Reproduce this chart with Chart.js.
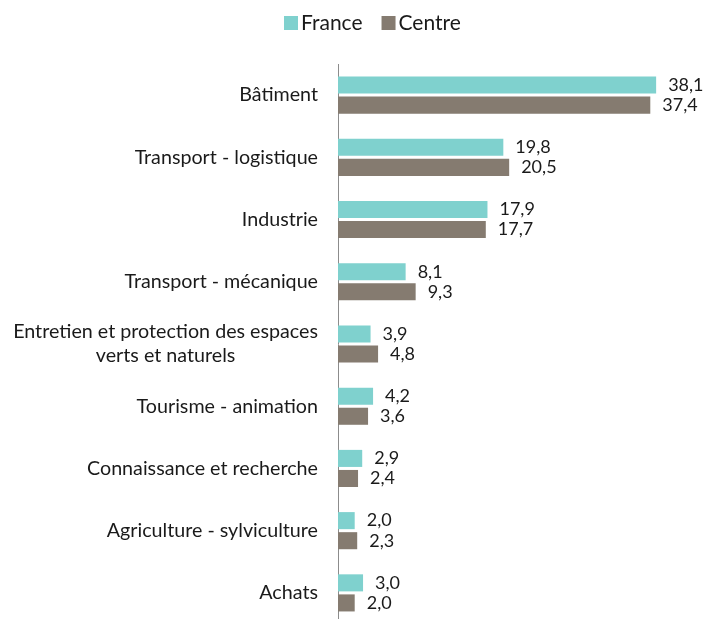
<!DOCTYPE html>
<html>
<head>
<meta charset="utf-8">
<script src="https://cdn.jsdelivr.net/npm/chart.js@4/dist/chart.umd.min.js"></script>
<style>
  html, body { margin: 0; padding: 0; background: #fff; overflow: hidden; }
  #wrap { width: 705px; height: 624px; position: relative; }
</style>
</head>
<body>
<div id="wrap"><canvas id="grafico"></canvas></div>
<script>
// Données
const categories = [
    'Bâtiment',
    'Transport - logistique',
    'Industrie',
    'Transport - mécanique',
    ['Entretien et protection des espaces', 'verts et naturels'],
    'Tourisme - animation',
    'Connaissance et recherche',
    'Agriculture - sylviculture',
    'Achats'
];
const valeursFrance = [38.1, 19.8, 17.9, 8.1, 3.9, 4.2, 2.9, 2.0, 3.0];
const valeursCentre = [37.4, 20.5, 17.7, 9.3, 4.8, 3.6, 2.4, 2.3, 2.0];

const police = 'Lato, "Open Sans", sans-serif';
const couleurTexte = '#1a1a1a';

// Légende en haut (carré collé au texte, comme l'original)
const legende = {
    id: 'legende',
    afterDraw(chart) {
        const ctx = chart.ctx;
        ctx.save();
        ctx.font = '21px ' + police;
        ctx.textBaseline = 'middle';
        ctx.textAlign = 'left';
        let x = 284;
        const yc = 23;
        chart.data.datasets.forEach(ds => {
            ctx.fillStyle = ds.backgroundColor;
            ctx.fillRect(x, yc - 7, 14, 14);
            ctx.fillStyle = couleurTexte;
            ctx.fillText(ds.label, x + 17, yc);
            x += 17 + ctx.measureText(ds.label).width + 19;
        });
        ctx.restore();
    }
};

// Libellés de l'axe vertical, centrés ligne par ligne
const libellesAxe = {
    id: 'libellesAxe',
    afterDraw(chart) {
        const ctx = chart.ctx;
        const y = chart.scales.y;
        const droite = chart.chartArea.left - 20;
        ctx.save();
        ctx.font = '19.7px ' + police;
        ctx.fillStyle = couleurTexte;
        ctx.textAlign = 'center';
        ctx.textBaseline = 'middle';
        categories.forEach((cat, i) => {
            const lignes = Array.isArray(cat) ? cat : [cat];
            const largeur = Math.max(...lignes.map(l => ctx.measureText(l).width));
            const cx = droite - largeur / 2;
            const hLigne = 24;
            const y0 = y.getPixelForTick(i) - (lignes.length - 1) * hLigne / 2;
            lignes.forEach((l, k) => ctx.fillText(l, cx, y0 + k * hLigne));
        });
        ctx.restore();
    }
};

// Valeurs au bout des barres
const etiquettes = {
    id: 'etiquettes',
    afterDatasetsDraw(chart) {
        const ctx = chart.ctx;
        ctx.save();
        ctx.font = '18px ' + police;
        ctx.fillStyle = couleurTexte;
        ctx.textAlign = 'left';
        ctx.textBaseline = 'middle';
        chart.data.datasets.forEach((ds, d) => {
            chart.getDatasetMeta(d).data.forEach((bar, i) => {
                const txt = ds.data[i].toFixed(1).replace('.', ',');
                ctx.fillText(txt, bar.x + 12, bar.y);
            });
        });
        ctx.restore();
    }
};

new Chart(document.getElementById('grafico'), {
    type: 'bar',
    data: {
        labels: categories,
        datasets: [
            {
                label: 'France',
                data: valeursFrance,
                backgroundColor: '#7fd1ce',
                categoryPercentage: 0.645,
                barPercentage: 0.85
            },
            {
                label: 'Centre',
                data: valeursCentre,
                backgroundColor: '#857b70',
                categoryPercentage: 0.645,
                barPercentage: 0.85
            }
        ]
    },
    options: {
        indexAxis: 'y',
        responsive: true,
        maintainAspectRatio: false,
        animation: false,
        layout: { padding: { left: 338, right: 33, top: 64, bottom: 0 } },
        plugins: {
            legend: { display: false },
            tooltip: { enabled: false }
        },
        scales: {
            x: {
                display: false,
                min: 0,
                max: 40
            },
            y: {
                grid: { display: false, drawTicks: false },
                border: { display: true, color: '#8c8c8c', width: 1 },
                ticks: { display: false }
            }
        }
    },
    plugins: [legende, libellesAxe, etiquettes]
});
</script>
</body>
</html>
